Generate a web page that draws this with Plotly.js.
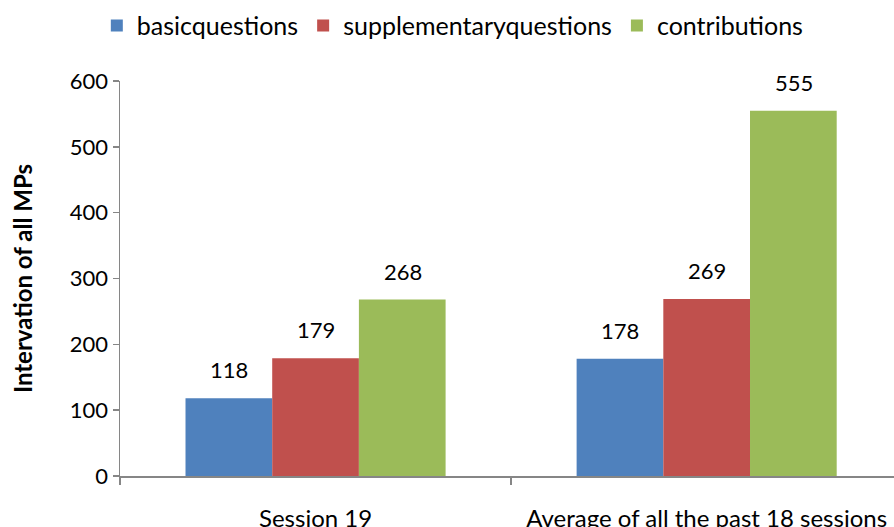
<!DOCTYPE html>
<html><head><meta charset="utf-8">
<script src="https://cdn.plot.ly/plotly-3.0.1.min.js"></script>
<style>html,body{margin:0;padding:0;background:#fff}#chart{width:894px;height:527px}</style>
</head><body><div id="chart"></div>
<script>
const categories = ["Session 19", "Average of all the past 18 sessions"];
const seriesNames = ["basicquestions", "supplementaryquestions", "contributions"];
const basicquestions = [118, 178];
const supplementaryquestions = [179, 269];
const contributions = [268, 555];
const yTicks = [0, 100, 200, 300, 400, 500, 600];

const colors = ["#4F81BD", "#C0504D", "#9BBB59"];
const values = [basicquestions, supplementaryquestions, contributions];
const FONT = "Lato, 'Open Sans', sans-serif";
const FS = 22;

const traces = values.map((v, i) => ({
  type: "bar", name: seriesNames[i], x: categories, y: v,
  marker: {color: colors[i], line: {width: 0}},
  hoverinfo: "skip"
}));

const barPx = 87;
const annotations = [];
values.forEach((v, i) => {
  v.forEach((val, j) => {
    annotations.push({
      x: categories[j], y: val, text: String(val), showarrow: false,
      xref: "x", yref: "y", yanchor: "bottom", yshift: 13,
      xshift: (i - 1) * barPx,
      font: {family: FONT, size: FS, color: "#000"}
    });
  });
});

const layout = {
  width: 894, height: 527,
  margin: {l: 120, r: 0, t: 81, b: 51, autoexpand: false},
  paper_bgcolor: "#fff", plot_bgcolor: "#fff",
  barmode: "group", bargap: 0.335, bargroupgap: 0,
  showlegend: true,
  legend: {orientation: "h", x: 0.43, xanchor: "center", y: 1.14, yanchor: "middle",
    font: {family: FONT, size: 25, color: "#000"}, traceorder: "normal"},
  xaxis: {type: "category", range: [-0.5, 1.479], showline: true, linecolor: "#868686", linewidth: 1.5,
    ticks: "outside", tickson: "boundaries", ticklen: 7, tickcolor: "#868686", tickwidth: 1.5,
    showgrid: false, zeroline: false, ticklabelstandoff: 21,
    tickfont: {family: FONT, size: 24, color: "#000"}},
  yaxis: {range: [0, 600], tickvals: yTicks, ticktext: yTicks.map(String),
    showline: true, linecolor: "#868686", linewidth: 1.5,
    ticks: "outside", ticklen: 6, tickcolor: "#868686", tickwidth: 1.5,
    showgrid: false, zeroline: false,
    tickfont: {family: FONT, size: FS, color: "#000"},
    title: {text: "<b>Intervation of all MPs</b>", font: {family: FONT, size: 24, color: "#000"}, standoff: 30}},
  annotations: annotations
};

Plotly.newPlot("chart", traces, layout, {displayModeBar: false, staticPlot: true});
</script></body></html>
